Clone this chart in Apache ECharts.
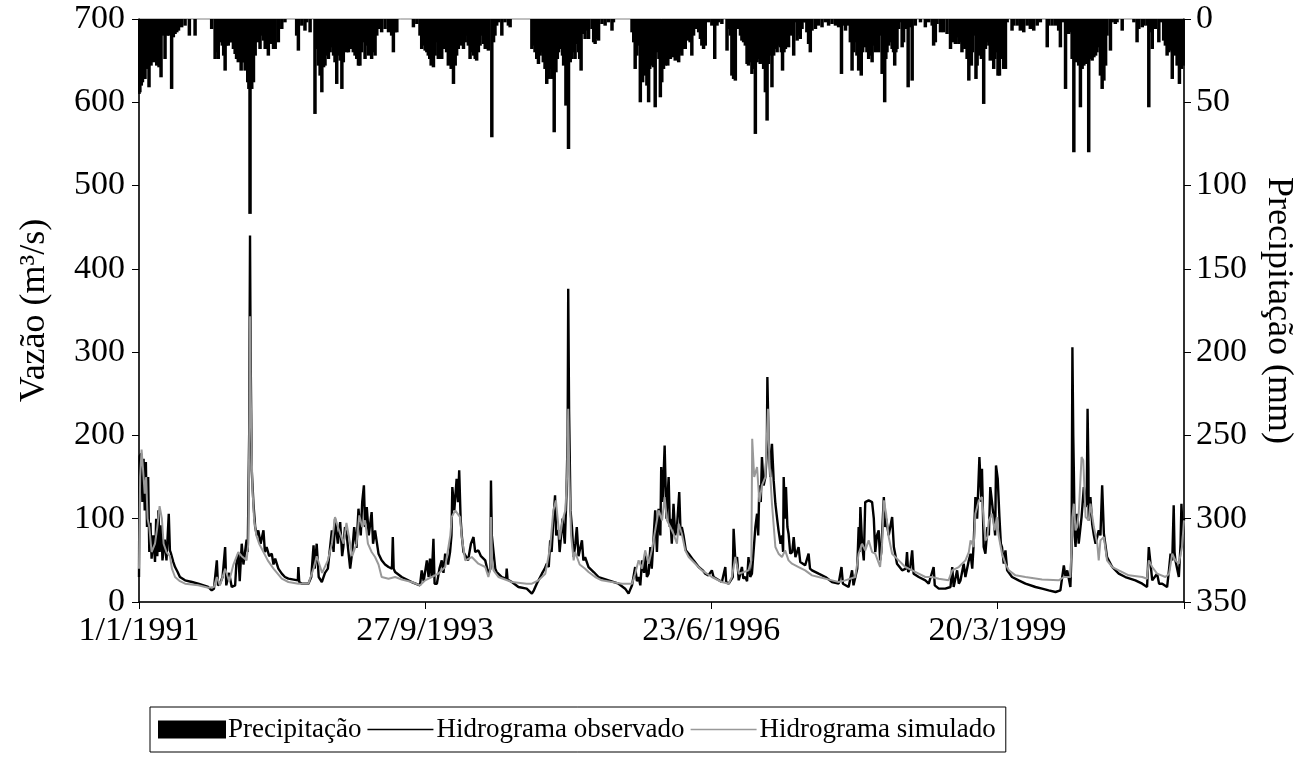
<!DOCTYPE html>
<html>
<head>
<meta charset="utf-8">
<script src="https://cdn.jsdelivr.net/npm/echarts@6/dist/echarts.min.js"></script>
<style>
html,body{margin:0;padding:0;background:#fff;}
#chart{width:1310px;height:767px;}
</style>
</head>
<body>
<div id="chart"></div>
<script>
// x values are day numbers counted from 1/1/1991
const tickLabels = ['1/1/1991', '27/9/1993', '23/6/1996', '20/3/1999'];
const lastDay = 3652;

// daily precipitation (mm), [day, mm]
const precipitation = [
[0,45],[3,44],[8,40],[12,38],[17,36],[21,36],[26,30],[30,15],[35,41],[42,28],[50,26],[56,24],[62,28],[70,29],[77,35],[85,10],[91,24],[99,10],[105,10],[114,42],[120,11],[126,9],[132,8],[138,7],[149,5],[161,4],[176,10],[196,10],
[254,6],[266,24],[272,20],[277,24],[284,14],[291,16],[296,22],[301,31],[306,16],[312,16],[318,14],[324,14],[330,18],[336,21],[341,24],[347,26],[352,22],[357,31],[361,26],[365,26],[371,31],[376,30],[380,38],[384,42],[388,117],[394,42],[400,38],[406,22],[415,14],[423,18],[429,10],[435,13],[441,18],[446,18],[452,22],[464,15],[470,18],[476,18],[487,14],[499,6],[510,2],
[551,10],[557,19],[569,4],[580,7],[586,2],[598,8],[615,57],[621,18],[627,28],[633,34],[639,44],[645,29],[650,28],[656,22],[662,24],[668,20],[674,17],[680,22],[685,26],[691,39],[697,22],[703,25],[709,42],[714,26],[720,18],[726,20],[732,20],[738,14],
[743,18],[749,20],[755,22],[761,24],[767,28],[772,28],[778,20],[784,14],[790,24],[796,16],[802,22],[808,20],[813,24],[819,20],[825,22],[831,10],[837,6],[848,8],[860,6],[872,8],[883,10],[889,20],[895,8],[901,8],[959,5],[971,3],
[982,10],[988,18],[994,16],[1000,19],[1006,20],[1011,22],[1016,24],[1021,28],[1029,29],[1035,22],[1041,14],[1046,24],[1052,20],[1058,24],[1064,18],[1070,14],[1075,20],[1081,28],[1086,26],[1091,30],[1099,39],[1105,28],[1110,22],[1116,18],[1122,12],[1128,16],[1134,18],[1140,14],[1145,10],[1151,16],[1157,24],[1163,20],[1169,22],[1175,24],[1180,25],[1186,20],[1192,16],[1198,10],[1204,15],[1210,18],[1215,13],[1221,19],[1233,71],[1239,14],[1244,10],[1250,4],[1256,2],[1268,10],[1279,2],[1291,4],[1297,5],
[1373,18],[1379,16],[1384,20],[1390,24],[1396,27],[1402,22],[1408,20],[1413,26],[1419,30],[1425,39],[1433,36],[1438,30],[1443,36],[1451,68],[1457,32],[1462,24],[1466,20],[1470,18],[1475,17],[1480,22],[1484,28],[1492,52],[1501,78],[1507,26],[1513,24],[1519,20],[1524,24],[1530,15],[1536,20],[1540,24],[1545,31],[1554,9],[1559,12],[1565,7],[1571,12],[1583,6],[1589,14],[1594,15],[1600,12],[1606,13],[1618,3],[1629,4],[1641,2],[1653,7],[1658,2],
[1723,8],[1729,14],[1734,30],[1740,22],[1746,16],[1752,50],[1756,30],[1760,38],[1767,34],[1771,30],[1775,40],[1781,50],[1785,30],[1790,28],[1794,24],[1798,29],[1804,53],[1808,20],[1813,14],[1817,24],[1822,47],[1827,38],[1833,30],[1839,28],[1844,26],[1848,28],[1853,22],[1857,24],[1863,22],[1868,23],[1874,25],[1880,22],[1886,26],[1891,20],[1897,22],[1903,18],[1909,18],[1915,10],[1921,13],[1926,14],[1932,22],[1938,10],[1944,6],[1950,3],[1956,8],[1962,12],[1967,16],[1973,18],[1979,16],[1991,2],[2002,4],[2012,24],[2020,4],[2026,2],[2037,3],
[2055,19],[2061,6],[2067,10],[2072,34],[2078,36],[2084,37],[2090,4],[2096,6],[2102,10],[2107,13],[2113,14],[2119,16],[2125,27],[2130,28],[2136,26],[2142,33],[2148,30],[2154,69],[2160,26],[2166,24],[2171,27],[2177,26],[2183,30],[2189,44],[2195,61],[2200,27],[2206,22],[2212,41],[2218,22],[2224,18],[2230,20],[2235,16],[2241,17],[2245,20],[2249,31],[2254,20],[2259,18],[2265,16],[2270,17],[2276,10],[2282,2],[2288,22],[2294,2],[2300,13],[2305,10],[2311,12],[2317,6],[2323,2],[2329,2],[2334,8],[2340,15],[2346,20],[2352,7],[2364,6],[2375,4],[2387,5],[2399,2],[2410,4],[2422,3],[2434,4],[2445,5],[2455,33],[2463,4],[2469,7],[2480,4],
[2486,14],[2492,31],[2498,20],[2503,14],[2509,22],[2515,31],[2520,24],[2524,34],[2529,20],[2533,15],[2538,17],[2544,20],[2550,24],[2556,22],[2562,26],[2568,16],[2573,20],[2579,6],[2585,20],[2591,10],[2597,33],[2606,50],[2610,24],[2614,20],[2620,16],[2626,14],[2632,18],[2637,20],[2641,28],[2645,20],[2649,18],[2655,6],[2661,2],[2667,17],[2672,14],[2678,6],[2688,41],[2693,5],[2702,37],[2713,4],[2731,2],[2748,5],[2760,2],[2772,4],[2777,16],[2783,14],[2789,3],[2801,8],[2812,8],[2824,9],[2836,18],[2842,14],[2847,10],[2853,15],[2859,11],[2865,15],[2871,14],[2876,20],[2881,16],[2886,18],[2894,24],[2900,37],[2905,24],[2909,28],[2913,20],[2917,10],[2925,36],[2929,28],[2935,22],[2940,20],[2944,24],[2952,51],[2958,18],[2964,14],[2970,16],[2975,25],[2981,22],[2987,30],[2991,24],[2995,20],[3002,34],[3007,34],[3012,24],[3016,21],[3022,30],[3028,30],[3034,2],
[3051,7],[3057,4],[3069,4],[3080,7],[3092,8],[3104,4],[3115,6],[3127,7],[3139,4],[3150,2],[3174,17],[3179,4],[3191,4],[3203,4],[3214,7],[3220,17],[3228,2],[3238,42],[3244,8],[3249,9],[3255,8],[3261,24],[3267,80],[3273,26],[3278,23],[3284,28],[3290,53],[3296,30],[3302,28],[3308,27],[3314,24],[3319,80],[3325,24],[3331,25],[3337,23],[3343,22],[3348,20],[3354,17],[3360,34],[3366,42],[3372,37],[3378,28],[3383,10],[3395,19],[3401,2],[3412,3],[3418,2],[3436,7],
[3477,2],[3488,14],[3494,6],[3506,5],[3512,4],[3523,4],[3529,53],[3535,8],[3541,18],[3552,6],[3564,14],[3570,2],[3581,13],[3587,16],[3593,22],[3599,20],[3605,19],[3611,36],[3616,18],[3622,22],[3628,28],[3632,24],[3636,39],[3643,30],[3647,26],[3651,28]
];

// observed discharge (m3/s), [day, value]
const observed = [
[0,30],[2,175],[8,178],[12,120],[16,172],[20,110],[24,168],[28,90],[32,150],[36,60],[40,95],[44,52],[50,80],[56,48],[60,100],[64,55],[68,110],[72,60],[78,92],[82,50],[90,75],[96,50],[104,106],[108,62],[112,58],[120,48],[126,42],[135,36],[143,30],[161,26],[185,24],[207,22],[242,18],[254,14],[262,16],[272,50],[276,20],[283,22],[292,30],[301,66],[305,20],[315,35],[324,18],[336,20],[340,45],[347,58],[352,25],[359,70],[365,45],[376,75],[380,60],[385,200],[388,440],[390,300],[394,158],[400,118],[406,90],[412,80],[417,86],[425,70],[435,86],[440,60],[446,66],[455,55],[464,58],[470,45],[476,52],[487,40],[499,34],[510,30],[522,28],[555,26],[557,42],[560,24],[569,22],[592,22],[602,30],[610,68],[614,40],[621,70],[628,30],[639,24],[650,35],[660,40],[674,86],[680,60],[685,100],[695,70],[703,96],[710,55],[714,66],[720,90],[726,80],[732,60],[738,40],
[745,60],[752,90],[760,65],[767,112],[775,80],[780,120],[786,140],[790,90],[796,114],[803,80],[813,108],[818,70],[825,86],[837,58],[848,50],[860,45],[872,42],[884,40],[887,78],[890,40],[895,36],[918,30],[953,24],[982,20],[988,38],[995,25],[1006,50],[1012,30],[1017,52],[1023,30],[1029,76],[1033,22],[1041,22],[1050,40],[1058,50],[1064,35],[1070,58],[1080,45],[1087,60],[1092,80],[1095,138],[1102,110],[1110,148],[1115,120],[1119,158],[1124,100],[1128,80],[1134,60],[1140,58],[1150,50],[1160,70],[1169,78],[1175,60],[1186,62],[1195,55],[1210,50],[1221,34],[1228,40],[1230,146],[1233,80],[1239,60],[1245,40],[1250,36],[1268,30],[1283,28],[1285,40],[1288,27],[1303,24],[1326,18],[1355,16],[1373,10],[1380,14],[1390,22],[1408,34],[1418,40],[1425,46],[1432,42],[1437,74],[1442,60],[1448,98],[1454,128],[1458,80],[1466,86],
[1470,60],[1480,100],[1488,70],[1494,130],[1498,200],[1500,376],[1503,230],[1508,110],[1513,90],[1519,54],[1525,70],[1530,90],[1536,55],[1548,74],[1553,50],[1559,54],[1571,42],[1589,36],[1606,30],[1641,26],[1676,22],[1699,16],[1711,10],[1718,16],[1723,20],[1734,42],[1740,25],[1746,30],[1752,20],[1758,50],[1765,35],[1769,58],[1775,30],[1781,34],[1787,66],[1792,40],[1798,42],[1804,110],[1810,60],[1816,112],[1822,80],[1825,162],[1830,120],[1837,188],[1843,100],[1851,150],[1855,90],[1857,100],[1862,70],[1868,118],[1874,80],[1880,90],[1888,132],[1893,80],[1897,90],[1903,80],[1911,62],[1921,58],[1938,50],[1956,42],[1970,38],[1979,34],[1990,32],[2002,38],[2008,30],[2014,28],[2037,24],[2049,42],[2052,24],[2061,22],[2075,30],[2078,88],[2084,50],[2090,54],[2096,26],[2107,42],[2112,28],[2119,30],[2125,25],[2130,54],[2136,30],[2142,34],[2148,62],[2154,90],[2160,106],[2164,80],[2168,140],[2173,120],[2177,174],[2183,140],[2189,150],[2194,180],
[2196,270],[2200,200],[2206,150],[2212,190],[2218,146],[2224,118],[2230,100],[2235,86],[2242,70],[2247,80],[2251,60],[2253,150],[2258,100],[2261,138],[2266,90],[2270,82],[2276,58],[2283,60],[2288,78],[2294,54],[2300,56],[2305,66],[2311,48],[2317,50],[2328,44],[2340,58],[2345,40],[2352,38],[2375,34],[2399,30],[2422,24],[2445,22],[2455,42],[2460,22],[2480,18],[2492,38],[2497,20],[2503,22],[2510,40],[2515,90],[2518,60],[2521,114],[2527,70],[2533,50],[2538,120],[2550,122],[2562,120],[2568,100],[2573,60],[2579,80],[2585,86],[2590,50],[2594,60],[2603,126],[2607,90],[2611,100],[2620,80],[2632,102],[2638,66],[2649,46],[2667,38],[2680,40],[2684,60],[2688,36],[2695,40],[2702,62],[2707,34],[2725,30],[2748,26],[2760,22],[2777,42],[2781,20],[2795,16],[2818,16],[2836,18],[2842,42],[2847,18],[2859,38],[2865,22],[2871,26],[2882,46],[2888,30],[2894,30],[2900,50],[2906,58],[2912,40],[2917,70],[2923,126],[2929,100],[2937,174],
[2940,174],[2944,120],[2946,160],[2952,66],[2958,58],[2965,90],[2970,80],[2975,138],[2981,120],[2987,100],[2992,80],[2995,164],[3001,148],[3007,102],[3012,70],[3016,66],[3022,46],[3028,62],[3034,38],[3051,30],[3074,26],[3098,22],[3133,18],[3156,16],[3179,14],[3203,12],[3220,14],[3232,44],[3238,30],[3244,38],[3255,18],[3259,60],[3262,306],[3265,200],[3267,158],[3270,80],[3273,66],[3278,106],[3284,70],[3294,102],[3302,138],[3308,114],[3312,120],[3315,232],[3318,160],[3319,98],[3325,126],[3331,94],[3337,80],[3343,70],[3354,86],[3360,80],[3366,140],[3372,82],[3383,54],[3401,42],[3424,34],[3447,30],[3482,26],[3506,22],[3523,18],[3527,50],[3529,66],[3535,46],[3541,26],[3558,34],[3565,22],[3576,22],[3593,18],[3600,40],[3605,58],[3611,50],[3616,116],[3619,60],[3622,50],[3634,30],[3640,70],[3643,118],[3648,80],[3652,100]
];

// simulated discharge (m3/s), [day, value]
const simulated = [
[0,40],[4,150],[9,183],[14,160],[20,130],[25,150],[30,100],[36,90],[44,60],[56,70],[64,90],[72,115],[80,100],[86,70],[96,60],[108,55],[115,40],[126,30],[143,25],[161,22],[207,20],[242,17],[262,18],[272,30],[283,20],[301,40],[315,25],[330,45],[347,60],[359,55],[376,50],[382,70],[386,230],[388,343],[391,240],[396,140],[402,100],[410,80],[420,70],[435,60],[450,50],[470,40],[499,28],[522,24],[557,22],[592,22],[610,40],[621,55],[640,35],[660,50],[674,70],[685,102],[695,90],[705,80],[715,70],[725,95],[738,70],
[745,55],[760,70],[770,104],[780,90],[790,98],[800,70],[813,60],[825,54],[837,45],[848,30],[872,28],[895,30],[918,27],[953,24],[982,20],[1000,26],[1023,30],[1046,34],[1070,42],[1088,80],[1093,102],[1105,110],[1122,102],[1128,78],[1140,50],[1163,54],[1186,46],[1210,42],[1221,30],[1228,40],[1230,102],[1234,50],[1239,38],[1256,30],[1303,24],[1355,22],[1373,22],[1396,26],[1420,34],[1437,66],[1448,110],[1457,122],[1466,90],
[1470,75],[1480,98],[1490,110],[1496,150],[1500,232],[1504,150],[1510,80],[1519,50],[1524,60],[1540,45],[1559,40],[1571,36],[1594,30],[1617,26],[1688,22],[1723,22],[1734,34],[1746,50],[1758,40],[1769,62],[1781,46],[1792,62],[1804,86],[1816,110],[1828,98],[1837,126],[1845,98],[1857,90],[1868,82],[1880,70],[1886,94],[1897,82],[1909,62],[1921,54],[1944,46],[1967,38],[2002,30],[2037,24],[2061,22],[2072,30],[2084,54],[2096,34],[2130,38],[2140,50],[2143,196],[2150,150],[2160,162],[2168,120],[2177,140],[2189,150],
[2198,232],[2203,170],[2212,118],[2224,66],[2235,58],[2247,54],[2258,62],[2270,50],[2282,46],[2305,42],[2328,38],[2352,32],[2375,30],[2422,26],[2445,24],[2468,26],[2503,30],[2515,58],[2527,70],[2538,62],[2550,74],[2562,60],[2573,58],[2590,42],[2597,70],[2603,122],[2611,106],[2620,78],[2632,58],[2655,50],[2678,42],[2702,38],[2725,34],[2748,30],[2771,30],[2795,28],[2829,26],[2842,38],[2865,42],[2888,50],[2900,60],[2906,74],[2917,66],[2923,106],[2935,122],
[2946,126],[2952,98],[2958,74],[2965,78],[2970,98],[2981,106],[2990,86],[2998,102],[3004,80],[3016,58],[3028,46],[3040,38],[3063,32],[3098,30],[3156,27],[3214,26],[3232,30],[3255,30],[3260,80],[3262,102],[3267,118],[3273,86],[3278,90],[3284,106],[3294,174],[3300,170],[3308,102],[3319,98],[3325,118],[3337,90],[3349,70],[3354,50],[3360,74],[3372,78],[3383,50],[3401,42],[3424,38],[3459,32],[3506,30],[3523,28],[3529,50],[3541,42],[3558,34],[3587,30],[3600,34],[3611,58],[3622,50],[3634,46],[3645,66],[3652,98]
];

const FONT = '"Liberation Serif", "Times New Roman", serif';
// thin horizontal line icon (tiny corner marks keep the full box height)
const LINE_ICON = 'path://M0,0 L0.05,0 L0.05,0.05 Z M0,8.2 L66,8.2 L66,9.8 L0,9.8 Z M0,17.95 L0.05,18 L0,18 Z';
const chart = echarts.init(document.getElementById('chart'), null, {renderer: 'canvas'});
chart.setOption({
  animation: false,
  backgroundColor: '#ffffff',
  textStyle: {fontFamily: FONT, color: '#000'},
  grid: {left: 139, right: 126, top: 19, bottom: 165, show: true, borderColor: '#808080', borderWidth: 1},
  legend: {
    left: 150, top: 707,
    padding: [9, 10, 9, 8],
    borderColor: '#000', borderWidth: 1,
    itemWidth: 68, itemHeight: 18, itemGap: 6,
    textStyle: {fontFamily: FONT, fontSize: 27, color: '#000', padding: [0, 0, 0, -3]},
    data: [
      {name: 'Precipitação', icon: 'rect'},
      {name: 'Hidrograma observado', icon: LINE_ICON},
      {name: 'Hidrograma simulado', icon: LINE_ICON}
    ]
  },
  xAxis: {
    type: 'value', min: 0, max: lastDay, interval: 1000,
    axisLine: {lineStyle: {color: '#000', width: 1.5}},
    axisTick: {show: true, length: 7, lineStyle: {color: '#000'}},
    splitLine: {show: false},
    axisLabel: {fontFamily: FONT, fontSize: 34, color: '#000', margin: 12,
      formatter: v => (v % 1000 === 0 && tickLabels[v / 1000]) ? tickLabels[v / 1000] : ''}
  },
  yAxis: [{
    type: 'value', min: 0, max: 700, interval: 100,
    name: 'Vazão (m³/s)', nameLocation: 'middle', nameGap: 86, nameRotate: 90,
    nameTextStyle: {fontFamily: FONT, fontSize: 36, color: '#000'},
    axisLine: {show: true, lineStyle: {color: '#000', width: 1.5}},
    axisTick: {show: true, length: 7, lineStyle: {color: '#000'}},
    splitLine: {show: false},
    axisLabel: {fontFamily: FONT, fontSize: 34, color: '#000', margin: 14}
  }, {
    type: 'value', min: 0, max: 350, interval: 50, inverse: true, position: 'right',
    name: 'Precipitação (mm)', nameLocation: 'middle', nameGap: 76, nameRotate: -90,
    nameTextStyle: {fontFamily: FONT, fontSize: 36, color: '#000'},
    axisLine: {show: true, lineStyle: {color: '#000', width: 1.5}},
    axisTick: {show: true, length: 7, lineStyle: {color: '#000'}},
    splitLine: {show: false},
    axisLabel: {fontFamily: FONT, fontSize: 34, color: '#000', margin: 12}
  }],
  series: [{
    name: 'Precipitação', type: 'bar', yAxisIndex: 1, data: precipitation,
    barWidth: 3.5, itemStyle: {color: '#000'}, large: false, z: 2
  }, {
    name: 'Hidrograma observado', type: 'line', yAxisIndex: 0, data: observed,
    showSymbol: false, symbol: 'none', lineStyle: {color: '#000', width: 2.4}, itemStyle: {color: '#000'}, z: 3
  }, {
    name: 'Hidrograma simulado', type: 'line', yAxisIndex: 0, data: simulated,
    showSymbol: false, symbol: 'none', lineStyle: {color: '#999999', width: 2}, itemStyle: {color: '#999999'}, z: 4
  }]
});
</script>
</body>
</html>
